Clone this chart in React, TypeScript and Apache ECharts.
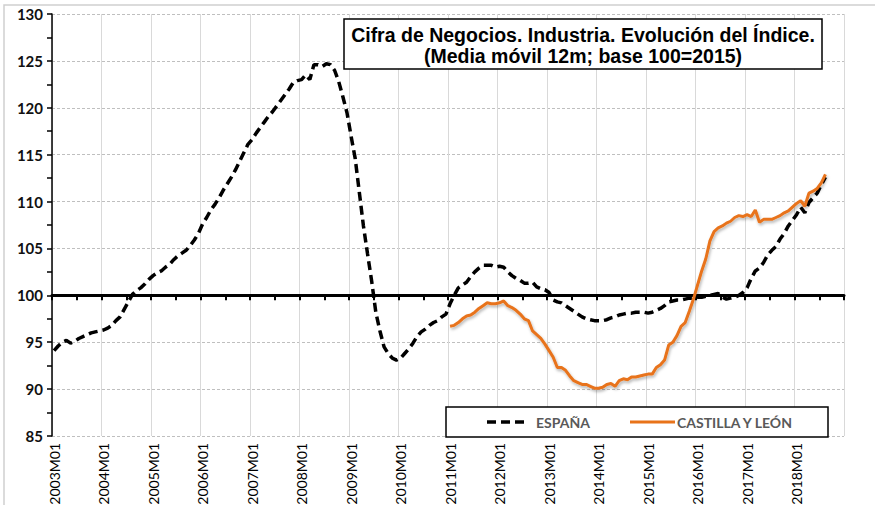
import React, { useEffect, useRef } from "react";
import * as echarts from "echarts";

const years = [2003, 2004, 2005, 2006, 2007, 2008, 2009, 2010, 2011, 2012, 2013, 2014, 2015, 2016, 2017, 2018];
const months = ["01", "02", "03", "04", "05", "06", "07", "08", "09", "10", "11", "12"];
const categories: string[] = [];
years.forEach((y) => months.forEach((m) => categories.push(`${y}M${m}`)));

const yTicks = { min: 85, max: 130, interval: 5 };

// España, 2003M01 .. 2018M08
const espana = [
  94.1, 94.6, 95.0, 95.2, 94.9, 95.1, 95.4, 95.6, 95.8, 96.0, 96.1, 96.2,
  96.3, 96.5, 96.8, 97.3, 97.7, 98.5, 99.3, 100.1, 100.5, 100.8, 101.2, 101.7,
  102.1, 102.4, 102.6, 103.0, 103.3, 103.8, 104.2, 104.5, 104.8, 105.3, 105.9, 106.6,
  107.6, 108.3, 109.1, 109.7, 110.4, 111.2, 111.9, 112.6, 113.4, 114.3, 115.2, 116.1,
  116.6, 117.3, 117.9, 118.5, 119.1, 119.6, 120.2, 120.8, 121.4, 122.0, 122.7, 122.9,
  123.0, 123.5, 123.0, 124.6, 124.6, 124.4, 124.7, 124.6, 124.0, 122.8, 121.2, 119.5,
  117.0, 114.6, 111.0, 107.4, 104.4, 101.5, 98.2, 96.2, 94.5, 93.8, 93.3, 93.1,
  93.3, 93.8, 94.3, 94.9, 95.6, 96.1, 96.4, 96.8, 97.1, 97.3, 97.7, 98.0,
  99.1, 100.0, 100.8, 101.1, 101.4, 102.0, 102.5, 102.9, 103.2, 103.2, 103.2, 103.0,
  103.1, 103.0, 102.5, 102.1, 101.8, 101.6, 101.3, 101.3, 101.4, 100.9, 100.7, 100.6,
  100.3, 99.5, 99.3, 99.2, 98.9, 98.6, 98.3, 98.0, 97.7, 97.5, 97.4, 97.3,
  97.3, 97.3, 97.4, 97.6, 97.7, 97.9, 98.0, 98.1, 98.1, 98.2, 98.2, 98.2,
  98.1, 98.2, 98.4, 98.6, 98.9, 99.3, 99.4, 99.5, 99.5, 99.6, 99.7, 99.7,
  99.8, 99.8, 99.9, 100.0, 100.1, 100.2, 99.8, 99.6, 99.7, 99.8, 100.0, 100.3,
  100.8, 101.8, 102.6, 102.9, 103.5, 104.3, 104.8, 105.2, 106.0, 106.6, 107.4, 108.0,
  108.6, 109.4, 108.8, 109.9, 110.4, 110.9, 111.8, 112.6,
];

// Castilla y León, 2011M01 .. 2018M08
const castillaStart = "2011M01";
const castilla = [
  96.7, 96.8, 97.1, 97.5, 97.8, 97.9, 98.2, 98.6, 98.9, 99.2, 99.1, 99.1,
  99.2, 99.4, 98.9, 98.7, 98.4, 98.0, 97.5, 97.3, 96.2, 95.8, 95.4, 94.8,
  94.1, 93.4, 92.3, 92.3, 92.0, 91.4, 90.9, 90.7, 90.5, 90.5, 90.3, 90.1,
  90.1, 90.2, 90.5, 90.6, 90.3, 90.9, 91.1, 91.0, 91.3, 91.3, 91.4, 91.5,
  91.6, 91.6, 92.3, 92.6, 93.1, 94.7, 95.0, 95.7, 96.7, 97.1, 98.3, 99.6,
  101.1, 102.6, 103.9, 105.8, 106.8, 107.2, 107.4, 107.7, 107.9, 108.3, 108.5, 108.4,
  108.6, 108.4, 109.1, 107.8, 108.1, 108.1, 108.1, 108.3, 108.5, 108.8, 109.0, 109.4,
  109.8, 110.1, 109.5, 110.9, 111.1, 111.4, 112.0, 112.9,
];

const seriesNames = ["ESPAÑA", "CASTILLA Y LEÓN"];
const seriesColors = ["#000000", "#e8731a"];
const titleLines = ["Cifra de Negocios. Industria. Evolución del Índice.", "(Media móvil 12m; base 100=2015)"];

export default function App() {
  const ref = useRef<HTMLDivElement>(null);
  useEffect(() => {
    if (!ref.current) return;
    const chart = echarts.init(ref.current, undefined, { renderer: "svg" });
    const offsetStart = categories.indexOf(castillaStart);
    const castillaData = categories.map((_, i) =>
      i >= offsetStart && i - offsetStart < castilla.length ? castilla[i - offsetStart] : null
    );
    const espanaData = categories.map((_, i) => (i < espana.length ? espana[i] : null));
    const gridTop = 14;
    const gridBottom = 69;
    const gridH = 505 - gridTop - gridBottom;
    const lineOffset = -((100 - yTicks.min) / (yTicks.max - yTicks.min)) * gridH;
    const dash = [9, 5];
    const legendTextStyle = {
      fontFamily: "Lato",
      fontWeight: "bold",
      fontSize: 14,
      fill: "#595959",
      verticalAlign: "middle",
      align: "left",
    };

    chart.setOption({
      animation: false,
      backgroundColor: "#ffffff",
      grid: {
        left: 52,
        right: 31,
        top: gridTop,
        bottom: gridBottom,
        containLabel: false,
        outerBoundsMode: "none",
      },
      xAxis: [
        {
          type: "category",
          data: categories,
          boundaryGap: true,
          position: "bottom",
          axisLine: { show: false },
          axisTick: { show: false },
          axisLabel: {
            interval: 11,
            rotate: 90,
            margin: 7,
            fontFamily: "Lato",
            fontSize: 14,
            color: "#000000",
          },
          splitLine: { show: true, interval: 11, lineStyle: { color: "#d9d9d9", width: 1 } },
        },
        {
          type: "category",
          data: categories,
          boundaryGap: true,
          position: "bottom",
          offset: lineOffset,
          axisLine: { show: true, lineStyle: { color: "#000000", width: 3 } },
          axisTick: { show: true, interval: 5, length: 5, lineStyle: { color: "#000000", width: 2 } },
          axisLabel: { show: false },
          splitLine: { show: false },
        },
      ],
      yAxis: {
        type: "value",
        min: yTicks.min,
        max: yTicks.max,
        interval: yTicks.interval,
        axisLine: { show: true, lineStyle: { color: "#000000", width: 1.5 } },
        axisTick: { show: true, length: 5, lineStyle: { color: "#000000", width: 1.5 } },
        minorTick: { show: true, splitNumber: 2, length: 5, lineStyle: { color: "#000000", width: 1.5 } },
        axisLabel: {
          fontFamily: "Lato",
          fontWeight: "bold",
          fontSize: 15,
          color: "#111111",
          margin: 9,
        },
        splitLine: { show: true, lineStyle: { color: "#bfbfbf", type: [3, 2], width: 1 } },
      },
      legend: { show: false },
      graphic: [
        {
          type: "rect",
          z: 15,
          shape: { x: 4, y: 5, width: 900, height: 520 },
          style: { fill: "none", stroke: "#cfcfcf", lineWidth: 1.5 },
          silent: true,
        },
        {
          type: "rect",
          z: 15,
          shape: { x: 344, y: 19, width: 478, height: 50 },
          style: { fill: "#ffffff", stroke: "#000000", lineWidth: 1.5 },
        },
        {
          type: "text",
          z: 16,
          x: 583,
          y: 45,
          style: {
            text: titleLines.join("\n"),
            fontFamily: "Liberation Sans",
            fontWeight: "bold",
            fontSize: 19.5,
            lineHeight: 21,
            fill: "#000000",
            align: "center",
            verticalAlign: "middle",
          },
        },
        {
          type: "rect",
          z: 15,
          shape: { x: 446, y: 407, width: 382, height: 30 },
          style: { fill: "#ffffff", stroke: "#000000", lineWidth: 1.5 },
        },
        {
          type: "line",
          z: 16,
          shape: { x1: 487, y1: 422, x2: 528, y2: 422 },
          style: { stroke: seriesColors[0], lineWidth: 3.5, lineDash: dash },
        },
        {
          type: "text",
          z: 16,
          x: 536,
          y: 422,
          style: { ...legendTextStyle, text: seriesNames[0] },
        },
        {
          type: "line",
          z: 16,
          shape: { x1: 630, y1: 422, x2: 675, y2: 422 },
          style: { stroke: seriesColors[1], lineWidth: 3 },
        },
        {
          type: "text",
          z: 16,
          x: 677,
          y: 422,
          style: { ...legendTextStyle, text: seriesNames[1] },
        },
      ],
      series: [
        {
          name: seriesNames[0],
          type: "line",
          data: espanaData,
          showSymbol: false,
          symbol: "none",
          z: 3,
          lineStyle: { color: seriesColors[0], width: 3.5, type: dash, cap: "butt" },
          itemStyle: { color: seriesColors[0] },
        },
        {
          name: seriesNames[1],
          type: "line",
          data: castillaData,
          showSymbol: false,
          symbol: "none",
          z: 4,
          lineStyle: {
            color: seriesColors[1],
            width: 3,
            shadowBlur: 3,
            shadowColor: "rgba(0,0,0,0.3)",
            shadowOffsetY: 2,
            shadowOffsetX: 1,
          },
          itemStyle: { color: seriesColors[1] },
        },
      ],
    });
    return () => chart.dispose();
  }, []);
  return (
    <div
      ref={ref}
      style={{ position: "absolute", left: 0, top: 0, width: 875, height: 505 }}
    />
  );
}
